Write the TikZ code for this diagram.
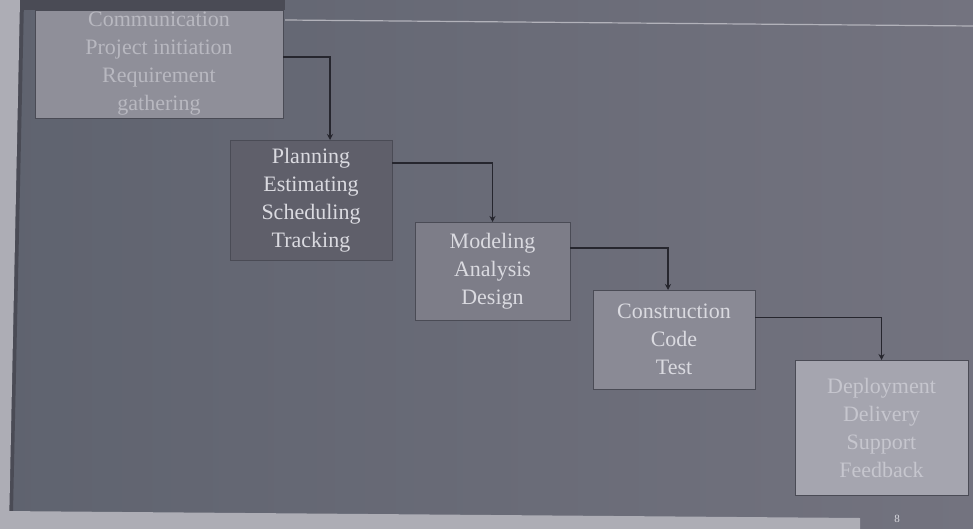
\documentclass[tikz,border=0pt]{standalone}
\usepackage{fontspec}
\setmainfont{Liberation Serif}
\usetikzlibrary{arrows.meta,calc}

\definecolor{slideleft}{HTML}{5F636F}
\definecolor{slideright}{HTML}{73737F}
\definecolor{edgelight}{HTML}{ADADB5}
\definecolor{edgedark}{HTML}{4A4B55}
\definecolor{rulecol}{HTML}{B2B2BA}
\definecolor{linecol}{HTML}{26262E}
\definecolor{fillA}{HTML}{8F8F99}
\definecolor{fillB}{HTML}{5F5F6A}
\definecolor{fillC}{HTML}{7D7D88}
\definecolor{fillD}{HTML}{8A8A95}
\definecolor{fillE}{HTML}{A5A5AF}
\definecolor{txtA}{HTML}{B8B8C0}
\definecolor{txtB}{HTML}{DADAE0}
\definecolor{txtE}{HTML}{C6C6CE}

\tikzset{
  phase/.style={draw=edgedark, line width=0.8pt, inner sep=0pt, outer sep=0pt,
    align=center, font=\fontsize{22}{28}\selectfont},
  conn/.style={draw=linecol, line width=1.4pt,
    -{Stealth[length=6pt,width=6pt]}},
}

\begin{document}
\begin{tikzpicture}[x=1pt,y=-1pt]
  % slide surface and photo edges
  \shade[left color=slideleft, right color=slideright] (0,0) rectangle (973,529);
  \useasboundingbox (0,0) rectangle (973,529);
  \fill[edgedark] (0,0) -- (24,0) -- (13,512) -- (0,512) -- cycle;
  \fill[edgelight] (0,0) -- (20,0) -- (9,529) -- (0,529) -- cycle;
  \fill[edgedark] (20,0) rectangle (285,10);
  \fill[edgelight] (0,511) -- (860,518) -- (860,529) -- (0,529) -- cycle;
  \draw[rulecol, line width=1.2pt] (285,20) -- (973,26);

  % phases of the process
  \node[phase, fill=fillA, text=txtA, minimum width=248pt, minimum height=108pt]
    (b1) at (159,64) {Communication\\Project initiation\\Requirement\\gathering};
  \node[phase, fill=fillB, text=txtB, minimum width=162pt, minimum height=120pt]
    (b2) at (311,200) {Planning\\Estimating\\Scheduling\\Tracking};
  \node[phase, fill=fillC, text=txtB, minimum width=155pt, minimum height=98pt]
    (b3) at (492.5,271) {Modeling\\Analysis\\Design};
  \node[phase, fill=fillD, text=txtB, minimum width=162pt, minimum height=99pt]
    (b4) at (674,339.5) {Construction\\Code\\Test};
  \node[phase, fill=fillE, text=txtE, minimum width=173pt, minimum height=135pt]
    (b5) at (881.5,427.5) {Deployment\\Delivery\\Support\\Feedback};

  % step-down connectors
  \draw[conn] ([yshift=7pt]b1.east) -| ([xshift=19pt]b2.north);
  \draw[conn] ([yshift=37pt]b2.east) -| (b3.north);
  \draw[conn] ([yshift=23pt]b3.east) -| ([xshift=-6pt]b4.north);
  \draw[conn] ([yshift=22pt]b4.east) -| (b5.north);

  % page number
  \node[text=txtB, font=\fontsize{11}{13}\selectfont, inner sep=0pt] (pg) at (897,519) {8};
\end{tikzpicture}
\end{document}
